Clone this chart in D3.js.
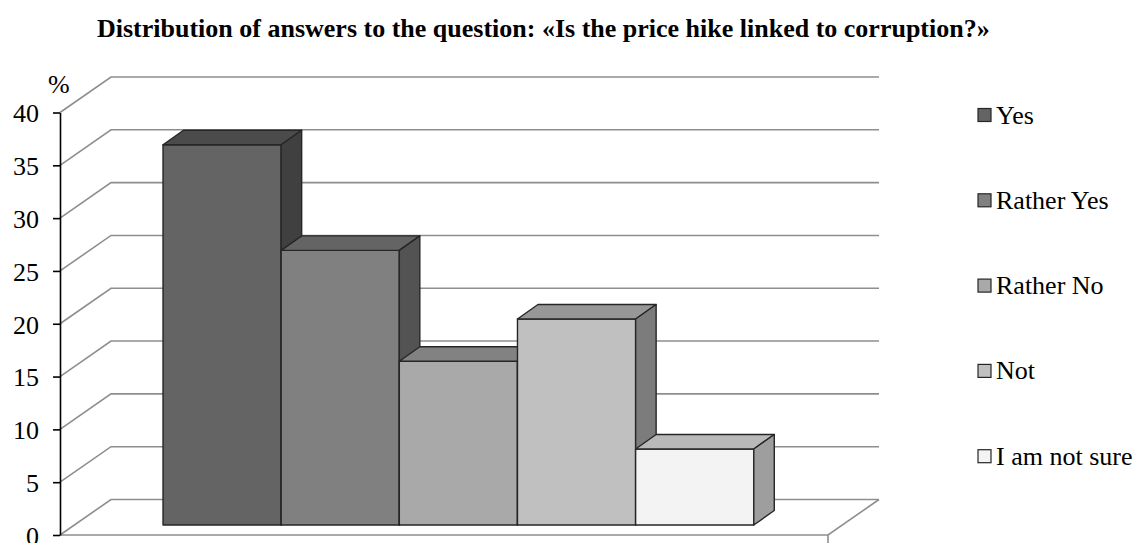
<!DOCTYPE html>
<html>
<head>
<meta charset="utf-8">
<script src="https://cdn.jsdelivr.net/npm/d3@7"></script>
<style>
  body { margin: 0; background: #ffffff; }
  svg { display: block; }
</style>
</head>
<body>
<svg id="chart" width="1139" height="543"></svg>
<script>
// Survey answers, percent of respondents
const categories = ["Yes", "Rather Yes", "Rather No", "Not", "I am not sure"];
const values = [36, 26, 15.5, 19.5, 7.2];
const yTicks = [0, 5, 10, 15, 20, 25, 30, 35, 40];
const titleText = "Distribution of answers to the question: «Is the price hike linked to corruption?»";
const unitLabel = "%";

// Shading of each box: front face, top face, right side face
const frontColors = ["#646464", "#808080", "#a9a9a9", "#c0c0c0", "#f3f3f3"];
const topColors   = ["#4b4b4b", "#646464", "#828282", "#979797", "#b9b9b9"];
const sideColors  = ["#404040", "#535353", "#6a6a6a", "#7c7c7c", "#9e9e9e"];

const svg = d3.select("#chart");
const font = '"Liberation Serif", "Times New Roman", serif';

// Front plane scales (the plane that holds the value axis)
const y = d3.scaleLinear().domain([0, 40]).range([535, 112.5]);
const x = d3.scaleBand().domain(categories).range([60, 828])
  .paddingInner(0).paddingOuter(0.75);

// Oblique projection offsets
const wall = { dx: 51, dy: -35.5 };     // front plane -> back wall
const barShift = { dx: 14.4, dy: -10 }; // front plane -> front face of the boxes
const barDepth = { dx: 20.5, dy: -14.5 };
const xLeft = x.range()[0], xRight = x.range()[1];
const gridColor = "#8e8e8e";

// Title
svg.append("text")
  .attr("x", 97).attr("y", 37)
  .attr("font-family", font).attr("font-size", 26).attr("font-weight", "bold")
  .attr("fill", "#000")
  .text(titleText);

// Side wall diagonals and back wall gridlines
const grid = svg.append("g").attr("fill", "none").attr("stroke", gridColor).attr("stroke-width", 1.6);
grid.selectAll("path.grid").data(yTicks).join("path")
  .attr("class", "grid")
  .attr("d", t => {
    const p = d3.path();
    p.moveTo(xLeft, y(t));
    p.lineTo(xLeft + wall.dx, y(t) + wall.dy);
    p.lineTo(xRight + wall.dx, y(t) + wall.dy);
    return p.toString();
  });

// Floor: front edge and right edge
const floor = d3.path();
floor.moveTo(xLeft, y(0));
floor.lineTo(xRight, y(0));
floor.lineTo(xRight + wall.dx, y(0) + wall.dy);
grid.append("path").attr("d", floor.toString());
// Category axis end ticks
grid.selectAll("line.xt").data([xRight]).join("line")
  .attr("class", "xt")
  .attr("x1", d => d).attr("x2", d => d)
  .attr("y1", y(0)).attr("y2", y(0) + 9);

// Boxes
const bw = x.bandwidth();
const bars = svg.append("g")
  .attr("stroke", "#262626").attr("stroke-width", 1.4).attr("stroke-linejoin", "round");

categories.forEach((c, i) => {
  const x0 = x(c) + barShift.dx;
  const x1 = x0 + bw;
  const yb = y(0) + barShift.dy;
  const yt = y(values[i]) + barShift.dy;
  const g = bars.append("g");
  g.append("rect")
    .attr("x", x0).attr("y", yt).attr("width", bw).attr("height", yb - yt)
    .attr("fill", frontColors[i]);
  g.append("polygon")
    .attr("points", [[x0, yt], [x0 + barDepth.dx, yt + barDepth.dy],
                     [x1 + barDepth.dx, yt + barDepth.dy], [x1, yt]].map(p => p.join(",")).join(" "))
    .attr("fill", topColors[i]);
  g.append("polygon")
    .attr("points", [[x1, yt], [x1 + barDepth.dx, yt + barDepth.dy],
                     [x1 + barDepth.dx, yb + barDepth.dy], [x1, yb]].map(p => p.join(",")).join(" "))
    .attr("fill", sideColors[i]);
});

// Value axis
const yAxis = svg.append("g")
  .attr("transform", `translate(${xLeft},0)`)
  .call(d3.axisLeft(y).tickValues(yTicks).tickSize(7).tickPadding(14).tickSizeOuter(0));
yAxis.select(".domain").attr("stroke", "#000").attr("stroke-width", 1.6);
yAxis.selectAll(".tick line").attr("stroke", "#000").attr("stroke-width", 1.6);
yAxis.selectAll(".tick text")
  .attr("font-family", font).attr("font-size", 26).attr("fill", "#000")
  .attr("dy", "0.36em");

svg.append("text")
  .attr("x", 48).attr("y", 93)
  .attr("font-family", font).attr("font-size", 26).attr("fill", "#000")
  .text(unitLabel);

// Legend
const legend = svg.append("g");
const rows = legend.selectAll("g").data(categories).join("g")
  .attr("transform", (d, i) => `translate(978, ${115 + i * 85.3})`);
rows.append("rect")
  .attr("x", 0).attr("y", -6.5).attr("width", 13).attr("height", 13)
  .attr("fill", (d, i) => frontColors[i])
  .attr("stroke", "#262626").attr("stroke-width", 1.2);
rows.append("text")
  .attr("x", 18).attr("y", 8.5)
  .attr("font-family", font).attr("font-size", 26).attr("fill", "#000")
  .text(d => d);
</script>
</body>
</html>
